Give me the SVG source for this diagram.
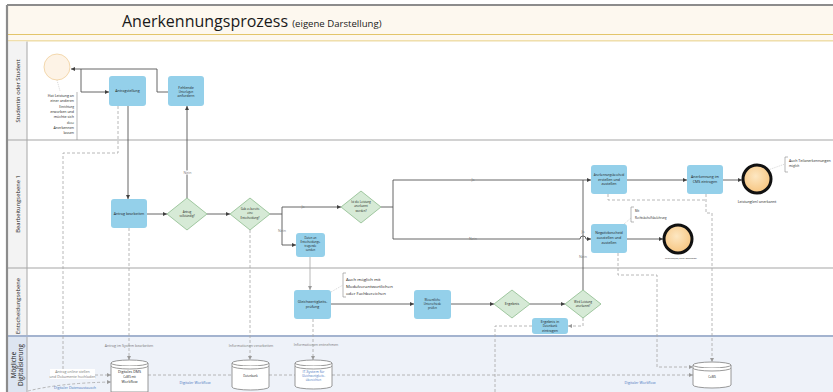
<svg xmlns="http://www.w3.org/2000/svg" width="833" height="392" viewBox="0 0 833 392">
<defs>
<marker id="ah" viewBox="0 0 6 6" refX="6" refY="3" markerWidth="4" markerHeight="4" markerUnits="userSpaceOnUse" orient="auto"><path d="M0,0 L6,3 L0,6 z" fill="#404040"/></marker>
<marker id="ahg" viewBox="0 0 6 6" refX="6" refY="3" markerWidth="4" markerHeight="4" markerUnits="userSpaceOnUse" orient="auto"><path d="M0,0 L6,3 L0,6 z" fill="#9a9a9a"/></marker>
<radialGradient id="endg" cx="0.45" cy="0.4" r="0.65"><stop offset="0" stop-color="#fde7c2"/><stop offset="1" stop-color="#f6c27a"/></radialGradient>
</defs>
<style>
.box{fill:#94d0ea;}
.dia{fill:#d6ead6;stroke:#8dbb8d;stroke-width:0.8}
.t{font-family:"Open Sans","Liberation Sans",sans-serif;fill:#1a1a1a;text-anchor:middle;font-size:3.6px}
.s{font-size:2.8px}
.conn{fill:none;stroke:#555;stroke-width:0.9}
.dash{fill:none;stroke:#a6a6a6;stroke-width:0.8;stroke-dasharray:3 2}
.lbl{font-family:"Open Sans","Liberation Sans",sans-serif;font-size:3.6px;fill:#777;text-anchor:middle}
.blue{fill:#4a78c0}
.cyl{fill:#fff;stroke:#7f7f7f;stroke-width:0.8}
.lane{font-family:"Open Sans","Liberation Sans",sans-serif;font-size:5.8px;fill:#222;text-anchor:middle}
.ann{fill:none;stroke:#999;stroke-width:0.7}
.dot{fill:none;stroke:#bbb;stroke-width:0.6;stroke-dasharray:1 1}
</style>

<!-- pool / lanes -->
<g id="pool">
<rect x="7" y="5" width="826" height="36" fill="#fdf8ef"/>
<line x1="7" y1="5" x2="833" y2="5" stroke="#8c8c8c" stroke-width="2"/>
<line x1="7" y1="34.5" x2="833" y2="34.5" stroke="#e3c56a" stroke-width="1.2"/>
<line x1="7" y1="41" x2="833" y2="41" stroke="#e3c56a" stroke-width="1.2"/>
<text x="122" y="27" font-family="'Open Sans','Liberation Sans',sans-serif" font-size="16" fill="#1a1a1a">Anerkennungsprozess <tspan font-size="9.6">(eigene Darstellung)</tspan></text>
<rect x="7" y="41.6" width="826" height="294" fill="#ffffff"/>
<rect x="7" y="41.6" width="20" height="294" fill="#f3f3f3"/>
<rect x="7" y="336" width="826" height="56" fill="#eef2f9"/>
<rect x="7" y="336" width="20" height="56" fill="#dde5f1"/>
<line x1="27" y1="41.6" x2="27" y2="392" stroke="#a6a6a6" stroke-width="1"/>
<line x1="7" y1="140" x2="833" y2="140" stroke="#a6a6a6" stroke-width="1.2"/>
<line x1="7" y1="268" x2="833" y2="268" stroke="#a6a6a6" stroke-width="1.2"/>
<line x1="7" y1="336" x2="833" y2="336" stroke="#a3b3cf" stroke-width="2"/>
<line x1="7" y1="5" x2="7" y2="392" stroke="#8c8c8c" stroke-width="2.2"/>
<text class="lane" transform="translate(19.5,91) rotate(-90)">Studentin oder Student</text>
<text class="lane" transform="translate(19.5,204) rotate(-90)">Bearbeitungsebene 1</text>
<text class="lane" transform="translate(19.5,306) rotate(-90)">Entscheidungsebene</text>
<text class="lane" transform="translate(15.5,365) rotate(-90)" fill="#1f2f4f" style="font-size:6.3px">Mögliche</text>
<text class="lane" transform="translate(23.3,365) rotate(-90)" fill="#1f2f4f" style="font-size:6.3px">Digitalisierung</text>
</g>

<!-- connectors -->
<g id="connectors">
<path class="dash" d="M118,106 V153 H63 V369"/>
<path class="dash" d="M95,375 H111" marker-end="url(#ahg)"/>
<path class="dash" d="M28,391 Q60,383 111,382" marker-end="url(#ahg)"/>
<path class="dash" d="M129,228 V360" marker-end="url(#ahg)"/>
<path class="dash" d="M250,230 V360" marker-end="url(#ahg)"/>
<path class="dash" d="M313,319 V360" marker-end="url(#ahg)"/>
<path class="dash" d="M148,375 H232"/>
<path class="dash" d="M269,375 H295"/>
<path class="dash" d="M332,375 H693" marker-end="url(#ahg)"/>
<path class="dash" d="M608,194 V200 H706"/>
<path class="dash" d="M706,194 V213 H712 V362" marker-end="url(#ahg)"/>
<path class="dash" d="M618,253 V275 H657 V367 H693" marker-end="url(#ahg)"/>
<path class="dash" d="M583,318 V326 H568" marker-end="url(#ahg)"/>
<path class="dash" d="M532,326 H495 V392"/>
<path class="dot" d="M57,80 L60,91"/>
<path class="dot" d="M768,170 L785,164"/>
<path class="dot" d="M624,224 L631,218"/>
<path class="dot" d="M331,292 L343,285"/>

<path class="conn" d="M168,92 H157 V69 H71" marker-end="url(#ah)"/>
<path class="conn" d="M81,69 V92 H109" marker-end="url(#ah)"/>
<path class="conn" d="M128,106 V199" marker-end="url(#ah)"/>
<path class="conn" d="M147,214 H167" marker-end="url(#ah)"/>
<path class="conn" d="M187,198 V106" marker-end="url(#ah)"/>
<path class="conn" d="M207,214 H230" marker-end="url(#ah)"/>
<path class="conn" d="M270,214 H282 V207 H341" marker-end="url(#ah)"/>
<path class="conn" d="M282,214 V245 H296" marker-end="url(#ah)"/>
<path class="conn" d="M381,207 H393 V180 H591" marker-end="url(#ah)"/>
<path class="conn" d="M393,207 V239 H580 A3,3 0 0 1 586,239 H591" marker-end="url(#ah)"/>
<path class="conn" d="M583,290 V180"/>
<path class="conn" d="M627,180 H687" marker-end="url(#ah)"/>
<path class="conn" d="M723,180 H742" marker-end="url(#ah)"/>
<path class="conn" d="M627,239 H663" marker-end="url(#ah)"/>
<path d="M310,257 V290" fill="none" stroke="#b0b0b0" stroke-width="0.9" marker-end="url(#ahg)"/>
<path class="conn" d="M331,304 H414" marker-end="url(#ah)"/>
<path class="conn" d="M451,304 H494" marker-end="url(#ah)"/>
<path class="conn" d="M530,304 H565" marker-end="url(#ah)"/>

<g class="lbl">
<rect x="182" y="170.5" width="10" height="4" fill="#fff"/>
<text x="187.5" y="173.8">Nein</text>
<text x="303" y="208.2">Ja</text>
<text x="282" y="232.2">Nein</text>
<text x="473" y="181.2">Ja</text>
<text x="473" y="240.2">Nein</text>
<text x="583" y="233.2">Ja</text>
<text x="583" y="258.2">Nein</text>
<text x="129" y="347">Antrag im System bearbeiten</text>
<text x="251" y="347">Informationen verarbeiten</text>
<text x="316" y="346">Informationen entnehmen</text>
<rect x="50" y="369" width="45" height="10" fill="#fff"/>
<text x="72.5" y="373">Antrag online stellen</text>
<text x="72.5" y="377.5">und Dokumente hochladen</text>
<text class="blue" x="195" y="383.5">Digitaler Workflow</text>
<text class="blue" x="640" y="383.5">Digitaler Workflow</text>
<text class="blue" x="75" y="389">Digitaler Datenaustausch</text>
</g>
</g>

<!-- lane 1 -->
<g id="start">
<circle cx="57" cy="67" r="13" fill="#fdf3e6" stroke="#f0cf9c" stroke-width="0.8"/>
</g>
<g id="annotation-start">
<path class="ann" d="M77,92 V140"/>
<g class="t" style="text-anchor:end">
<text x="74" y="97">Hat Leistung an</text>
<text x="74" y="102.3">einer anderen</text>
<text x="74" y="107.6" class="s">Einrichtung</text>
<text x="74" y="112.9">erworben und</text>
<text x="74" y="118.2">möchte sich</text>
<text x="74" y="123.5" class="s">diese</text>
<text x="74" y="128.8">Anerkennen</text>
<text x="74" y="134.1">lassen</text>
</g>
</g>
<g id="antragstellung">
<rect class="box" x="109" y="76" width="37" height="30" rx="3"/>
<text class="t" x="127.5" y="92.3">Antragstellung</text>
</g>
<g id="fehlende-unterlagen">
<rect class="box" x="168" y="76" width="36" height="30" rx="3"/>
<text class="t" x="186" y="88.5">Fehlende</text>
<text class="t s" x="186" y="92.6">Unterlagen</text>
<text class="t" x="186" y="97">anfordern</text>
</g>

<!-- lane 2 -->
<g id="antrag-bearbeiten">
<rect class="box" x="111" y="199" width="36" height="29" rx="3"/>
<text class="t" x="129" y="215">Antrag bearbeiten</text>
</g>
<g id="antrag-vollstaendig">
<polygon class="dia" points="187,198 207,214 187,230 167,214"/>
<text class="t s" x="187" y="213">Antrag</text>
<text class="t s" x="187" y="217.3">vollständig?</text>
</g>
<g id="entscheidung">
<polygon class="dia" points="250,198 270,214 250,230 230,214"/>
<text class="t s" x="250" y="210">Gab es bereits</text>
<text class="t s" x="250" y="214.3">eine</text>
<text class="t s" x="250" y="218.6">Entscheidung?</text>
</g>
<g id="leistung-anerkannt">
<polygon class="dia" points="361,191 381,207 361,223 341,207"/>
<text class="t s" x="361" y="203">Ist die Leistung</text>
<text class="t s" x="361" y="207.3">anerkannt</text>
<text class="t s" x="361" y="211.6">worden?</text>
</g>
<g id="daten-senden">
<rect class="box" x="296" y="233" width="29" height="24" rx="3"/>
<text class="t s" x="310.5" y="238.5">Daten an</text>
<text class="t s" x="310.5" y="242.5">Entscheidungs-</text>
<text class="t s" x="310.5" y="246.5">tragende</text>
<text class="t s" x="310.5" y="250.5">senden</text>
</g>
<g id="positivbescheid">
<rect class="box" x="591" y="165" width="36" height="29" rx="3"/>
<text class="t s" x="609" y="175.5">Anerkennungsbescheid</text>
<text class="t" x="609" y="180.6">erstellen und</text>
<text class="t" x="609" y="185.4">zustellen</text>
</g>
<g id="cms-eintragen">
<rect class="box" x="687" y="165" width="36" height="29" rx="3"/>
<text class="t" x="705" y="178.3">Anerkennung im</text>
<text class="t" x="705" y="183.2">CMS eintragen</text>
</g>
<g id="ende-anerkannt">
<circle cx="757" cy="179" r="14" fill="url(#endg)" stroke="#111" stroke-width="3"/>
<text class="t" x="757" y="202.5">Leistung(en) anerkannt</text>
</g>
<g id="annotation-teil">
<path class="ann" d="M788,157 H785 V172 H788"/>
<text class="t" x="789" y="162" style="text-anchor:start">Auch Teilanerkennungen</text>
<text class="t s" x="789" y="167" style="text-anchor:start">möglich</text>
</g>
<g id="negativbescheid">
<rect class="box" x="591" y="224" width="36" height="29" rx="3"/>
<text class="t" x="609" y="234.3">Negativbescheid</text>
<text class="t" x="609" y="239">ausstellen und</text>
<text class="t" x="609" y="243.7">zustellen</text>
</g>
<g id="annotation-rechtsbehelf">
<path class="ann" d="M634,207 H631 V222 H634"/>
<text class="t s" x="635" y="212" style="text-anchor:start">Mit</text>
<text class="t s" x="635" y="218.5" style="text-anchor:start">Rechtsbehelfsbelehrung</text>
</g>
<g id="ende-nicht">
<circle cx="678" cy="239" r="14" fill="url(#endg)" stroke="#111" stroke-width="3"/>
<text class="t" x="681" y="259.3" style="font-size:2.4px">Leistung(en) nicht anerkannt</text>
</g>

<!-- lane 3 -->
<g id="gleichwertigkeit">
<rect class="box" x="294" y="290" width="37" height="29" rx="3"/>
<text class="t" x="312.5" y="302.6">Gleichwertigkeits-</text>
<text class="t" x="312.5" y="307.6">prüfung</text>
</g>
<g id="annotation-modul">
<path class="ann" d="M346,273 H343 V297 H346"/>
<text class="t" x="346" y="281" style="text-anchor:start;font-size:4.3px">Auch möglich mit</text>
<text class="t" x="346" y="288" style="text-anchor:start;font-size:4.3px">Modulverantwortlichen</text>
<text class="t" x="346" y="295" style="text-anchor:start;font-size:4.3px">oder Fachbereichen</text>
</g>
<g id="wesentliche-unterschiede">
<rect class="box" x="414" y="290" width="37" height="29" rx="3"/>
<text class="t s" x="432.5" y="300.5">Wesentliche</text>
<text class="t s" x="432.5" y="304.8">Unterschiede</text>
<text class="t s" x="432.5" y="309.1">prüfen</text>
</g>
<g id="ergebnis">
<polygon class="dia" points="512,290 530,304 512,318 494,304"/>
<text class="t" x="512" y="305.3">Ergebnis</text>
</g>
<g id="wird-anerkannt">
<polygon class="dia" points="583,290 601,304 583,318 565,304"/>
<text class="t s" x="583" y="302.5">Wird Leistung</text>
<text class="t s" x="583" y="306.8">anerkannt?</text>
</g>
<g id="ergebnis-eintragen">
<rect class="box" x="532" y="318" width="36" height="16" rx="3"/>
<text class="t" x="550" y="323">Ergebnis in</text>
<text class="t s" x="550" y="327.3">Datenbank</text>
<text class="t" x="550" y="331.8">eintragen</text>
</g>

<!-- lane 4 -->
<g id="dms">
<path class="cyl" d="M111,363 A18.5,3 0 0 1 148,363 V392 H111 Z"/>
<path class="cyl" d="M111,363 A18.5,3 0 0 0 148,363"/>
<path class="cyl" d="M111,366 A18.5,3 0 0 0 148,366" fill="none"/>
<text class="t" x="129.5" y="372.5">Digitales DMS</text>
<text class="t s" x="129.5" y="377.5">CaMS mit</text>
<text class="t" x="129.5" y="383">Workflow</text>
</g>
<g id="datenbank">
<path class="cyl" d="M232,363 A18.5,3 0 0 1 269,363 V387 A18.5,3 0 0 1 232,387 Z"/>
<path class="cyl" d="M232,363 A18.5,3 0 0 0 269,363"/>
<path class="cyl" d="M232,366 A18.5,3 0 0 0 269,366" fill="none"/>
<text class="t s" x="250.5" y="377">Datenbank</text>
</g>
<g id="it-system">
<path class="cyl" d="M295,363 A18.5,3 0 0 1 332,363 V386 A18.5,3 0 0 1 295,386 Z"/>
<path class="cyl" d="M295,363 A18.5,3 0 0 0 332,363"/>
<path class="cyl" d="M295,366 A18.5,3 0 0 0 332,366" fill="none"/>
<text class="t blue" x="313.5" y="372.5">IT-System für</text>
<text class="t s blue" x="313.5" y="377">Gleichwertigkeits-</text>
<text class="t s blue" x="313.5" y="381">übersichten</text>
</g>
<g id="cams">
<path class="cyl" d="M693,365 A19,3 0 0 1 731,365 V385 A19,3 0 0 1 693,385 Z"/>
<path class="cyl" d="M693,365 A19,3 0 0 0 731,365"/>
<path class="cyl" d="M693,368 A19,3 0 0 0 731,368" fill="none"/>
<text class="t s" x="712" y="377.5">CaMS</text>
</g>
</svg>
